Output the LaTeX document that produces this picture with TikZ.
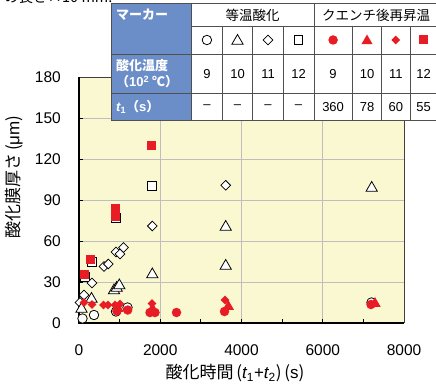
\documentclass[tikz,border=0pt]{standalone}
\usepackage{fontspec}
\setmainfont{Liberation Sans}
\newfontfamily\jp{Noto Sans CJK JP}
\usetikzlibrary{shapes.geometric}
\definecolor{plotbg}{RGB}{250,248,208}
\definecolor{gridc}{RGB}{190,190,190}
\definecolor{hdrblue}{RGB}{108,142,200}
\definecolor{mred}{RGB}{232,28,36}
\definecolor{tline}{RGB}{80,80,80}
\begin{document}
\begin{tikzpicture}[x=1pt,y=-1pt,
  oc/.style={circle,draw=black,fill=white,line width=0.8pt,minimum size=9.5pt,inner sep=0pt},
  ot/.style={regular polygon,regular polygon sides=3,draw=black,fill=white,line width=0.8pt,minimum size=13pt,inner sep=0pt},
  od/.style={diamond,draw=black,fill=white,line width=0.8pt,minimum width=10pt,minimum height=10pt,inner sep=0pt},
  osq/.style={rectangle,draw=black,fill=white,line width=0.8pt,minimum size=9pt,inner sep=0pt},
  rc/.style={circle,fill=mred,minimum size=9.5pt,inner sep=0pt},
  rt/.style={regular polygon,regular polygon sides=3,fill=mred,minimum size=13pt,inner sep=0pt},
  rd/.style={diamond,fill=mred,minimum width=9pt,minimum height=9pt,inner sep=0pt},
  rsq/.style={rectangle,fill=mred,minimum size=9pt,inner sep=0pt},
  ticklab/.style={font=\fontsize{15.5}{17}\selectfont,inner sep=0pt},
  axtitle/.style={font=\jp\fontsize{17}{19}\selectfont,inner sep=0pt},
  tcell/.style={font=\fontsize{13}{15}\selectfont,inner sep=0pt},
  thdr/.style={font=\jp\fontsize{13.5}{15}\selectfont,inner sep=0pt},
  tblue/.style={font=\jp\bfseries\fontsize{13}{16}\selectfont,text=white,inner sep=0pt,anchor=west,align=left},
  gridline/.style={draw=gridc,line width=0.8pt},
  tickline/.style={draw=black,line width=0.8pt}
]
\useasboundingbox (0,0) rectangle (436,385);

% cut-off caption text at top
\node[font=\jp\fontsize{14.5}{16}\selectfont,anchor=base west,inner sep=0pt] (cap) at (4,3) {の長さ×10 mm.};

% plot area
\fill[plotbg] (79,77) rectangle (404,323);
\foreach \gx in {160.25,241.5,322.75} \draw[gridline] (\gx,77) -- (\gx,323);
\foreach \gy in {282,241,200,159,118} \draw[gridline] (79,\gy) -- (404,\gy);
\draw[draw=black!75,line width=0.9pt] (79,77) -- (404,77) -- (404,323);
\draw[draw=black,line width=1.2pt] (79,77) -- (79,323) -- (404,323);
\foreach \k in {1,...,7} \draw[tickline] ({79+40.625*\k},323) -- ({79+40.625*\k},319);
\foreach \k in {1,...,5} \draw[tickline] (79,{323-41*\k}) -- (83,{323-41*\k});

% axis labels
\foreach \v [count=\k from 0] in {0,30,60,90,120,150,180}
  \node[ticklab,anchor=east] (yl\k) at (61,{323-41*\k}) {\v};
\foreach \v [count=\k from 0] in {0,2000,4000,6000,8000}
  \node[ticklab] (xl\k) at ({79+81.25*\k},350) {\v};
\node[axtitle] (xtitle) at (235,373) {酸化時間\,({\rmfamily\itshape t}{\rmfamily\textsubscript{1}+\itshape t}{\rmfamily\textsubscript{2}})\,({\rmfamily s})};
\node[axtitle,rotate=90] (ytitle) at (14,177) {酸化膜厚さ\,({\rmfamily μm})};

% open markers
\foreach \p [count=\i] in {(91.5,261.5),(85,277.3),(115.7,217.5),(152,185.7)}
  \node[osq] (os\i) at \p {};
\foreach \p [count=\i] in {(80,302.5),(84,295),(92,283),(104,266.5),(108.3,264),(116,252),(120,254),(123.5,247.5),(152.3,226),(225.7,185.3)}
  \node[od] (od\i) at \p {};
\foreach \p [count=\i] in {(81.5,309),(91.5,299),(114,290.5),(116.7,288),(119.3,285.5),(152.3,274.5),(225.7,266),(225.7,227),(371.7,188)}
  \node[ot] (ot\i) at \p {};
\foreach \p [count=\i] in {(82.5,318.5),(94,315),(116,311.5),(127.5,307.5),(371.5,302.5)}
  \node[oc] (oc\i) at \p {};

% red markers
\foreach \p [count=\i] in {(151.7,145),(115.3,208.3),(115.3,216),(90.5,259.5),(84.3,274)}
  \node[rsq] (rs\i) at \p {};
\foreach \p [count=\i] in {(84,302.5),(92,304.5),(103.5,305),(108,305),(115,305),(120,304),(152,303.5),(225,300)}
  \node[rd] (rd\i) at \p {};
\foreach \p [count=\i] in {(118,308.5),(152.5,309),(228.3,306.5),(375,303.5)}
  \node[rt] (rt\i) at \p {};
\foreach \p [count=\i] in {(117,311),(127.7,310),(150,312.5),(155,312.5),(176.5,312.5),(224.5,311.5),(371,304.5)}
  \node[rc] (rc\i) at \p {};

% table
\fill[white] (111,4) rectangle (440,120.7);
\fill[hdrblue] (111,4) rectangle (191.5,120.7);
\draw[tline,line width=0.8pt] (191.5,26) -- (440,26);
\draw[tline,line width=0.8pt] (111,54) -- (440,54);
\draw[tline,line width=0.8pt] (111,93.3) -- (440,93.3);
\foreach \cx in {222.3,252.7,283.3,352.3,381.7,410}
  \draw[tline,line width=0.8pt] (\cx,26) -- (\cx,120.7);
\draw[tline,line width=0.8pt] (191.5,4) -- (191.5,120.7);
\draw[tline,line width=0.8pt] (314,4) -- (314,120.7);
\draw[tline,line width=1pt] (111,4) rectangle (440,120.7);

\node[tblue] (hm) at (116,15) {マーカー};
\node[tblue] (ht) at (116,74) {酸化温度\\（{\rmfamily 10\textsuperscript{2}} ℃）};
\node[tblue] (hs) at (116,107) {{\rmfamily\bfseries\itshape t\textsubscript{\upshape 1}}（{\rmfamily\bfseries s}）};
\node[thdr] (g1) at (252.7,15) {等温酸化};
\node[thdr] (g2) at (376,15) {クエンチ後再昇温};

\node[oc] (k1) at (206.9,40) {};
\node[ot] (k2) at (237.5,41) {};
\node[od] (k3) at (268,40) {};
\node[osq,minimum size=8.5pt] (k4) at (298.6,40) {};
\node[rc] (k5) at (333.1,40) {};
\node[rt] (k6) at (367,41) {};
\node[rd] (k7) at (395.8,40) {};
\node[rsq] (k8) at (423.5,40) {};

\foreach \cx/\v [count=\i] in {206.9/9,237.5/10,268/11,298.6/12,333.1/9,367/10,395.8/11,423.5/12}
  \node[tcell] (tv\i) at (\cx,74) {\v};
\foreach \cx/\v [count=\i] in {206.9/--,237.5/--,268/--,298.6/--,333.1/360,367/78,395.8/60,423.5/55}
  \node[tcell] (tt\i) at (\cx,107) {\v};
\end{tikzpicture}
\end{document}
